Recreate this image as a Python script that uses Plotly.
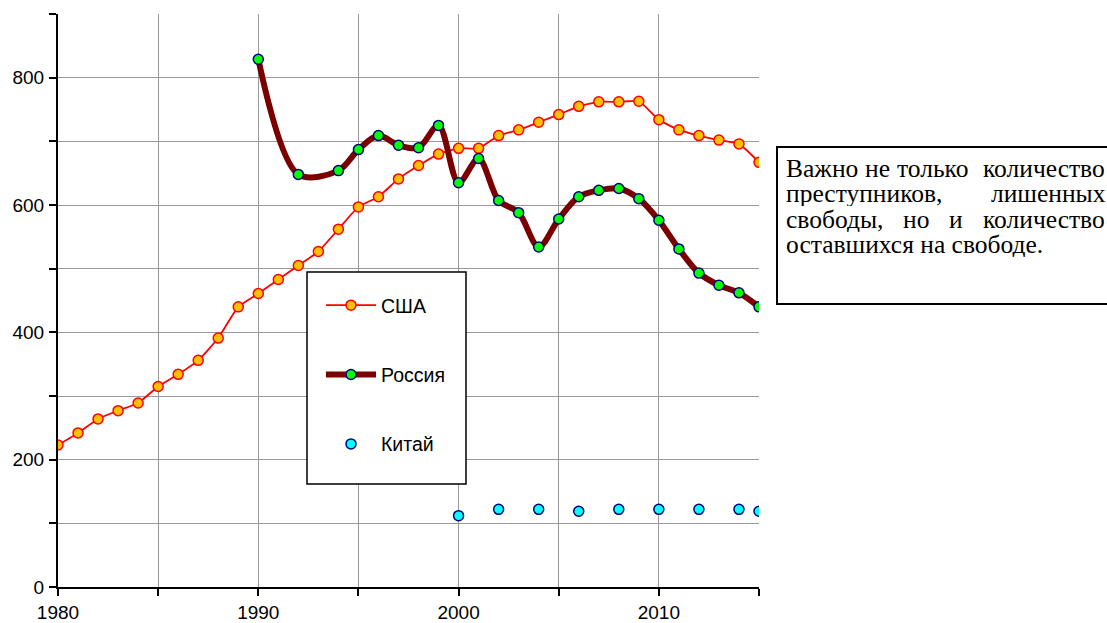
import plotly.graph_objects as go

# ---------------- data ----------------
usa_years = list(range(1980, 2016))
usa_values = [223, 242, 264, 277, 289, 315, 334, 356, 391, 440,
              461, 483, 505, 527, 562, 597, 613, 641, 662, 680,
              689, 689, 709, 718, 730, 742, 755, 762, 762, 763,
              734, 718, 709, 702, 696, 667]

russia_years = [1990, 1992, 1994] + list(range(1995, 2016))
russia_values = [829, 648, 654,
                 687, 709, 694, 690, 725, 635, 673, 607, 588, 534,
                 578, 613, 623, 626, 610, 576, 531, 493, 474, 462, 440]

china_years = [2000, 2002, 2004, 2006, 2008, 2010, 2012, 2014, 2015]
china_values = [112, 122, 122, 119, 122, 122, 122, 122, 119]

x_tickvals = list(range(1980, 2016, 5))
x_ticktext = ["1980", "", "1990", "", "2000", "", "2010", ""]
y_tickvals = list(range(0, 901, 100))
y_ticktext = ["0", "", "200", "", "400", "", "600", "", "800", ""]

series_names = ["США", "Россия", "Китай"]

note_words = [
    # (line index, word, left pixel)
    (0, "Важно", 785), (0, "не", 864), (0, "только", 896), (0, "количество", 982),
    (1, "преступников,", 785), (1, "лишенных", 990),
    (2, "свободы,", 785), (2, "но", 902), (2, "и", 948), (2, "количество", 982),
    (3, "оставшихся на свободе.", 785),
]
note_line_centers = [168, 193, 219, 244]

# ---------------- geometry helpers ----------------
W, H = 1107, 623
L, R, T, B = 58, 759, 14, 587


def px_x(p):
    return (p - L) / (R - L)


def px_y(p):
    return (B - p) / (B - T)


FONT = "Arial, Liberation Sans, sans-serif"
SERIF = "Liberation Serif, Times New Roman, serif"

fig = go.Figure()

fig.add_trace(go.Scatter(
    x=usa_years, y=usa_values, name=series_names[0], legendgroup="a",
    mode="lines+markers",
    line=dict(color="#FF0000", width=1.8, shape="spline", smoothing=0.5),
    marker=dict(size=10, color="#FFC000", line=dict(color="#FF0000", width=1.5)),
))

fig.add_trace(go.Scatter(
    x=russia_years, y=russia_values, name=series_names[1], legendgroup="b",
    mode="lines+markers",
    line=dict(color="#7A0000", width=6, shape="spline", smoothing=0.9),
    marker=dict(size=10, color="#00FF00", line=dict(color="#000080", width=1.5)),
))

fig.add_trace(go.Scatter(
    x=china_years, y=china_values, name=series_names[2], legendgroup="c",
    mode="markers",
    marker=dict(size=10, color="#00FFFF", line=dict(color="#000080", width=1.5)),
))

shapes = [
    # legend box
    dict(type="rect", xref="paper", yref="paper",
         x0=px_x(307), x1=px_x(466), y0=px_y(484), y1=px_y(272),
         fillcolor="white", line=dict(color="black", width=1.5), layer="above"),
    # note box
    dict(type="rect", xref="paper", yref="paper",
         x0=px_x(777), x1=px_x(1130), y0=px_y(304), y1=px_y(147),
         fillcolor="white", line=dict(color="black", width=2), layer="above"),
]

annotations = []
for li, word, xp in note_words:
    annotations.append(dict(
        xref="paper", yref="paper", x=px_x(xp), y=px_y(note_line_centers[li]),
        xanchor="left", yanchor="middle", text=word, showarrow=False,
        height=25, valign="middle", borderpad=0,
        font=dict(family=SERIF, size=25.5, color="black"),
    ))

fig.update_layout(
    width=W, height=H,
    margin=dict(l=L, r=W - R, t=T, b=H - B, pad=0, autoexpand=False),
    paper_bgcolor="white", plot_bgcolor="white",
    font=dict(family=FONT, size=19, color="black"),
    showlegend=True,
    legend=dict(
        x=px_x(321), y=px_y(286), xanchor="left", yanchor="top",
        bgcolor="rgba(0,0,0,0)", borderwidth=0,
        tracegroupgap=41, itemwidth=50,
        font=dict(family=FONT, size=19.5, color="black"),
    ),
    shapes=shapes,
    annotations=annotations,
)

fig.update_xaxes(
    range=[1980, 2015], tickvals=x_tickvals, ticktext=x_ticktext,
    showgrid=True, gridcolor="#999999", gridwidth=1.3,
    showline=True, linecolor="black", linewidth=2,
    ticks="outside", ticklen=7, tickwidth=1.5, tickcolor="black",
    ticklabelstandoff=0, zeroline=False, automargin=False,
)
fig.update_yaxes(
    range=[0, 900], tickvals=y_tickvals, ticktext=y_ticktext,
    showgrid=True, gridcolor="#999999", gridwidth=1.3,
    showline=True, linecolor="black", linewidth=2,
    ticks="outside", ticklen=7, tickwidth=1.5, tickcolor="black",
    ticklabelstandoff=1, zeroline=False, automargin=False,
)

fig.write_html("out.html", config={"displayModeBar": False},
               post_script="document.body.style.margin='0px';")
